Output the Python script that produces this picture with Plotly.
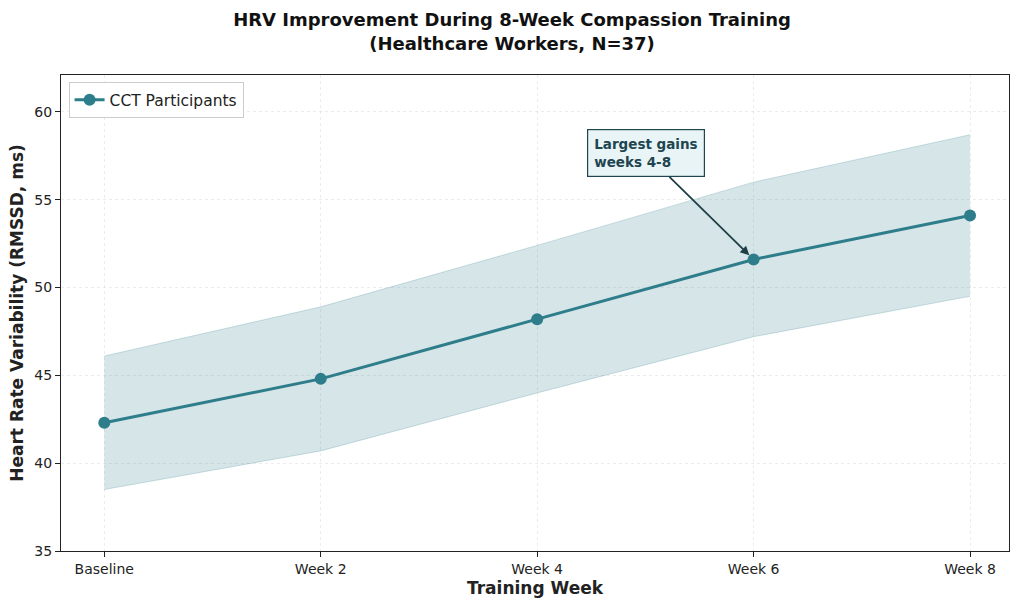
import plotly.graph_objects as go

weeks = ["Baseline", "Week 2", "Week 4", "Week 6", "Week 8"]
mean_hrv = [42.3, 44.8, 48.2, 51.6, 54.1]
upper_hrv = [46.1, 48.9, 52.4, 56.0, 58.7]
lower_hrv = [38.5, 40.7, 44.0, 47.2, 49.5]

teal = "#2E7D8A"
font = "DejaVu Sans"

fig = go.Figure()
fig.add_trace(go.Scatter(x=weeks, y=upper_hrv, mode="lines", line=dict(color="rgba(46,125,138,0.22)", width=1),
                         showlegend=False, hoverinfo="skip"))
fig.add_trace(go.Scatter(x=weeks, y=lower_hrv, mode="lines", line=dict(color="rgba(46,125,138,0.22)", width=1),
                         fill="tonexty", fillcolor="rgba(46,125,138,0.2)", showlegend=False, hoverinfo="skip"))
fig.add_trace(go.Scatter(x=weeks, y=mean_hrv, mode="lines+markers", name="CCT Participants",
                         line=dict(color=teal, width=3), marker=dict(size=12, color=teal)))

fig.add_annotation(x="Week 6", y=mean_hrv[3], xref="x", yref="y",
                   text="<b>Largest gains<br>weeks 4-8</b>", align="left",
                   showarrow=True, arrowhead=2, arrowsize=1, arrowwidth=1.8, arrowcolor="#1F3F47",
                   axref="pixel", ayref="pixel", ax=-108, ay=-106, standoff=6,
                   font=dict(family=font, size=13.5, color="#1F4550"),
                   bgcolor="#E8F4F5", bordercolor="#1F4550", borderwidth=1.2, borderpad=6)

fig.update_layout(
    width=1024, height=609,
    margin=dict(l=61, r=15, t=75, b=58),
    paper_bgcolor="white", plot_bgcolor="white",
    font=dict(family=font, size=14, color="#222"),
    title=dict(text="<b>HRV Improvement During 8-Week Compassion Training<br>(Healthcare Workers, N=37)</b>",
               x=0.5, xanchor="center", yref="container", y=0.957, yanchor="middle",
               font=dict(size=18, color="#111")),
    legend=dict(x=0.008, y=0.985, xanchor="left", yanchor="top", bgcolor="white",
                bordercolor="#cccccc", borderwidth=1, font=dict(size=15.5, color="#222")),
    xaxis=dict(range=[-0.2, 4.18], title=dict(text="<b>Training Week</b>", font=dict(size=17), standoff=6),
               showline=True, linecolor="#222", linewidth=1, mirror=True,
               ticks="outside", ticklen=5, tickcolor="#222",
               showgrid=True, gridcolor="rgba(200,200,200,0.35)", griddash="dot", zeroline=False),
    yaxis=dict(range=[35, 62.1], dtick=5, title=dict(text="<b>Heart Rate Variability (RMSSD, ms)</b>", font=dict(size=17), standoff=6),
               showline=True, linecolor="#222", linewidth=1, mirror=True,
               ticks="outside", ticklen=5, tickcolor="#222",
               showgrid=True, gridcolor="rgba(200,200,200,0.35)", griddash="dot", zeroline=False),
)

fig.write_html("out.html")
